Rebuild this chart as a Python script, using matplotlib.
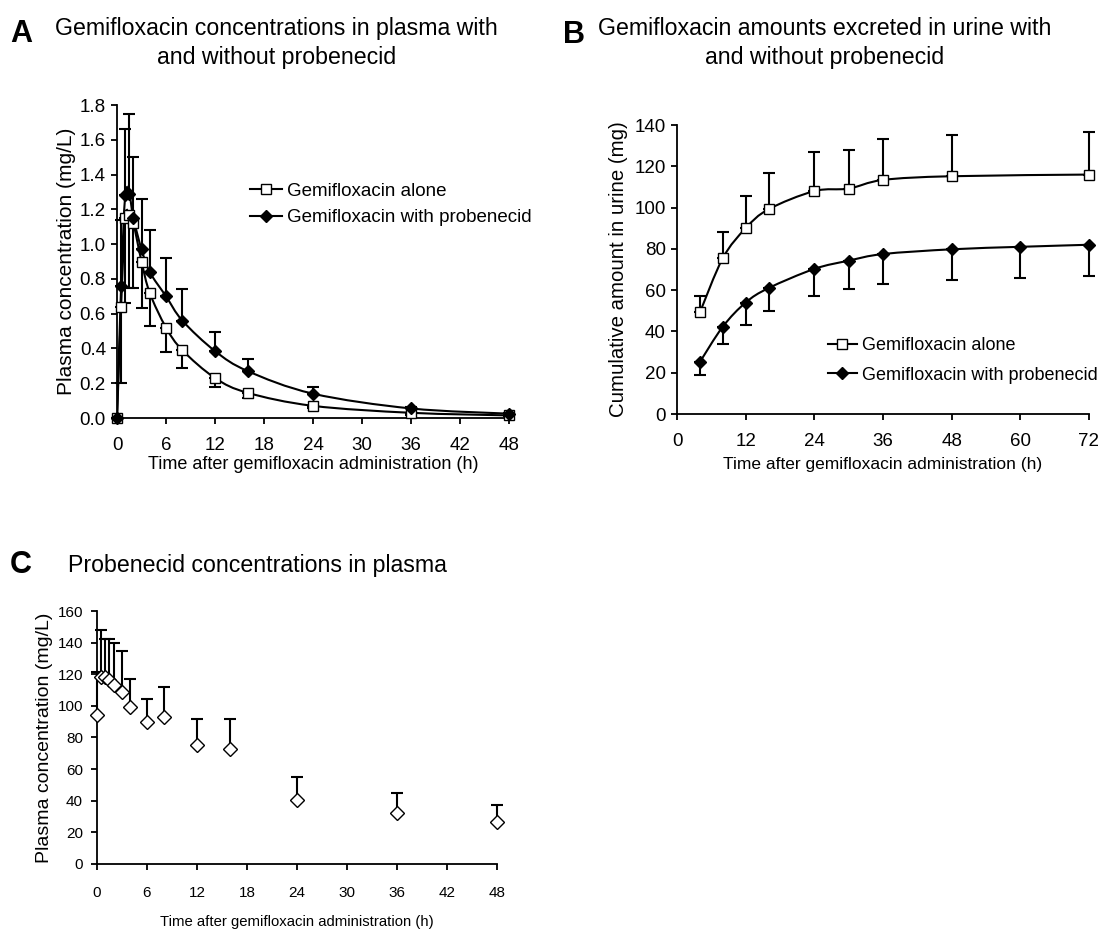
import matplotlib
matplotlib.use("Agg")
import matplotlib.pyplot as plt
from matplotlib.path import Path
from matplotlib.patches import PathPatch
from matplotlib import font_manager
import numpy as np

plt.rcParams['font.family'] = ['Liberation Sans', 'DejaVu Sans']
_names = {f.name for f in font_manager.fontManager.ttflist}
NARROW = 'Liberation Sans Narrow' if 'Liberation Sans Narrow' in _names else 'Liberation Sans'

# ---------------- Data ----------------
# Panel A: plasma gemifloxacin (mg/L)
a_time = [0, 0.5, 1, 1.5, 2, 3, 4, 6, 8, 12, 16, 24, 36, 48]
a_alone = [0, 0.64, 1.15, 1.17, 1.12, 0.90, 0.72, 0.52, 0.39, 0.23, 0.145, 0.07, 0.03, 0.015]
a_alone_sd = [0, 0.44, 0.49, 0.42, 0.37, 0.27, 0.19, 0.14, 0.10, 0.05, 0.03, 0.015, 0.01, 0.005]
a_prob = [0, 0.76, 1.28, 1.29, 1.15, 0.97, 0.84, 0.70, 0.56, 0.385, 0.27, 0.14, 0.055, 0.025]
a_prob_sd = [0, 0.38, 0.38, 0.46, 0.35, 0.29, 0.24, 0.22, 0.18, 0.11, 0.07, 0.04, 0.01, 0.005]

# Panel B: cumulative urinary amount (mg)
b_time_alone = [4, 8, 12, 16, 24, 30, 36, 48, 72]
b_alone = [49.2, 75.5, 90.0, 99.2, 108.0, 109.2, 113.4, 115.2, 116.0]
b_alone_sd = [8.2, 12.5, 15.5, 17.5, 19.0, 18.5, 19.6, 19.8, 20.6]
b_time_prob = [4, 8, 12, 16, 24, 30, 36, 48, 60, 72]
b_prob = [25.2, 42.3, 54.0, 61.0, 70.3, 74.3, 77.5, 79.8, 81.0, 82.0]
b_prob_sd = [6.2, 8.4, 10.8, 11.0, 12.9, 13.8, 14.5, 14.8, 15.0, 15.0]

# Panel C: plasma probenecid (mg/L)
c_time = [0, 0.5, 1, 1.5, 2, 3, 4, 6, 8, 12, 16, 24, 36, 48]
c_conc = [94, 118.5, 118, 116.5, 113.5, 108.5, 99, 89.5, 93, 75, 73, 40.5, 32.5, 26.5]
c_sd = [27.5, 29.5, 24, 25.5, 26, 26.5, 18, 15, 19, 17, 19, 14.5, 12.5, 10.5]

legend_labels = ["Gemifloxacin alone", "Gemifloxacin with probenecid"]
xlabel = "Time after gemifloxacin administration (h)"


def smooth_path(ax, x, y, **kw):
    """Excel-like smoothed line drawn as cubic Bezier path through the data points."""
    P = np.column_stack([x, y]).astype(float)
    n = len(P)
    verts = [P[0]]
    codes = [Path.MOVETO]
    for i in range(n - 1):
        p0 = P[i - 1] if i > 0 else P[i]
        p1 = P[i]
        p2 = P[i + 1]
        p3 = P[i + 2] if i + 2 < n else P[i + 1]
        c1 = p1 + (p2 - p0) / 6.0
        c2 = p2 - (p3 - p1) / 6.0
        verts += [c1, c2, p2]
        codes += [Path.CURVE4] * 3
    patch = PathPatch(Path(np.array(verts), codes), fill=False, **kw)
    ax.add_patch(patch)
    return patch


def style_axes(ax, fs, xpad, ypad, family=None):
    for s in ['top', 'right']:
        ax.spines[s].set_visible(False)
    for s in ['left', 'bottom']:
        ax.spines[s].set_linewidth(1.3)
    ax.tick_params(direction='out', length=4, width=1.3, labelsize=fs)
    ax.tick_params(axis='x', pad=xpad)
    ax.tick_params(axis='y', pad=ypad)
    if family:
        for lab in ax.get_xticklabels() + ax.get_yticklabels():
            lab.set_family(family)


fig = plt.figure(figsize=(11.01, 9.31), dpi=100)

LW = 1.5
# ---------------- Panel A ----------------
axA = fig.add_axes([0.1063, 0.551, 0.356, 0.3362])
smooth_path(axA, a_time, a_alone, color='black', lw=LW, zorder=2)
smooth_path(axA, a_time, a_prob, color='black', lw=LW, zorder=3)
axA.errorbar(a_time, a_alone, yerr=[a_alone_sd, [0] * len(a_alone_sd)], fmt='none',
             ecolor='black', elinewidth=1.5, capsize=4, capthick=1.5, zorder=2, clip_on=False)
axA.errorbar(a_time, a_prob, yerr=[[0] * len(a_prob_sd), a_prob_sd], fmt='none',
             ecolor='black', elinewidth=1.5, capsize=4, capthick=1.5, zorder=3, clip_on=False)
axA.plot(a_time, a_alone, ls='none', marker='s', ms=7, mfc='white', mec='black', mew=1.0,
         zorder=4, clip_on=False)
axA.plot(a_time, a_prob, ls='none', marker='D', ms=6.5, mfc='black', mec='black',
         zorder=5, clip_on=False)
axA.set_xlim(0, 48)
axA.set_ylim(0, 1.8)
axA.set_xticks(np.arange(0, 49, 6))
axA.set_yticks(np.arange(0, 1.81, 0.2))
axA.yaxis.set_major_formatter(matplotlib.ticker.FormatStrFormatter('%.1f'))
style_axes(axA, 13.5, xpad=10, ypad=4)
axA.set_ylabel("Plasma concentration (mg/L)", fontsize=15, labelpad=3)
axA.set_xlabel(xlabel, fontsize=13, labelpad=1)
hA1, = axA.plot([], [], color='black', lw=LW, marker='s', ms=7, mfc='white', mec='black', mew=1.0)
hA2, = axA.plot([], [], color='black', lw=LW, marker='D', ms=6.5, mfc='black')
axA.legend([hA1, hA2], legend_labels, loc='upper left', bbox_to_anchor=(0.339, 0.752),
           frameon=False, fontsize=13.5, handlelength=1.7, handletextpad=0.3, labelspacing=0.5,
           borderaxespad=0, borderpad=0)

# ---------------- Panel B ----------------
axB = fig.add_axes([0.6149, 0.5553, 0.3742, 0.3104])
smooth_path(axB, b_time_alone, b_alone, color='black', lw=LW, zorder=2)
smooth_path(axB, b_time_prob, b_prob, color='black', lw=LW, zorder=3)
axB.errorbar(b_time_alone, b_alone, yerr=[[0] * len(b_alone_sd), b_alone_sd], fmt='none',
             ecolor='black', elinewidth=1.5, capsize=4, capthick=1.5, zorder=2, clip_on=False)
axB.errorbar(b_time_prob, b_prob, yerr=[b_prob_sd, [0] * len(b_prob_sd)], fmt='none',
             ecolor='black', elinewidth=1.5, capsize=4, capthick=1.5, zorder=3, clip_on=False)
axB.plot(b_time_alone, b_alone, ls='none', marker='s', ms=7, mfc='white', mec='black', mew=1.0,
         zorder=4, clip_on=False)
axB.plot(b_time_prob, b_prob, ls='none', marker='D', ms=6.5, mfc='black', mec='black',
         zorder=5, clip_on=False)
axB.set_xlim(0, 72)
axB.set_ylim(0, 140)
axB.set_xticks(np.arange(0, 73, 12))
axB.set_yticks(np.arange(0, 141, 20))
style_axes(axB, 13.5, xpad=10, ypad=4)
axB.set_ylabel("Cumulative amount in urine (mg)", fontsize=14.7, labelpad=5)
axB.set_xlabel(xlabel, fontsize=12.5, labelpad=5)
axB.legend([hA1, hA2], legend_labels, loc='upper left', bbox_to_anchor=(0.366, 0.266),
           frameon=False, fontsize=13, handlelength=1.6, handletextpad=0.3, labelspacing=0.7,
           borderaxespad=0, borderpad=0)

# ---------------- Panel C ----------------
axC = fig.add_axes([0.0881, 0.072, 0.3633, 0.2717])
axC.errorbar(c_time, c_conc, yerr=[[0] * len(c_sd), c_sd], fmt='none',
             ecolor='black', elinewidth=1.5, capsize=4, capthick=1.5, zorder=2, clip_on=False)
axC.plot(c_time, c_conc, ls='none', marker='D', ms=7.5, mfc='white', mec='black', mew=1.0,
         zorder=4, clip_on=False)
axC.set_xlim(0, 48)
axC.set_ylim(0, 160)
axC.set_xticks(np.arange(0, 49, 6))
axC.set_yticks(np.arange(0, 161, 20))
style_axes(axC, 11, xpad=12, ypad=6, family=NARROW)
axC.set_ylabel("Plasma concentration (mg/L)", fontsize=14, family=NARROW, labelpad=3)
axC.set_xlabel(xlabel, fontsize=10.7, family=NARROW, labelpad=11)

# ---------------- Titles and panel letters ----------------
fig.text(0.0092, 0.9635, "A", fontsize=22, fontweight='bold', va='center', ha='left')
fig.text(0.251, 0.954, "Gemifloxacin concentrations in plasma with\nand without probenecid",
         fontsize=16.7, ha='center', va='center', linespacing=1.3)
fig.text(0.511, 0.962, "B", fontsize=22, fontweight='bold', va='center', ha='left')
fig.text(0.749, 0.954, "Gemifloxacin amounts excreted in urine with\nand without probenecid",
         fontsize=16.7, ha='center', va='center', linespacing=1.3)
fig.text(0.0092, 0.393, "C", fontsize=22, fontweight='bold', va='center', ha='left')
fig.text(0.062, 0.393, "Probenecid concentrations in plasma", fontsize=16.7, ha='left', va='center')

fig.savefig("out.png", dpi=100)
